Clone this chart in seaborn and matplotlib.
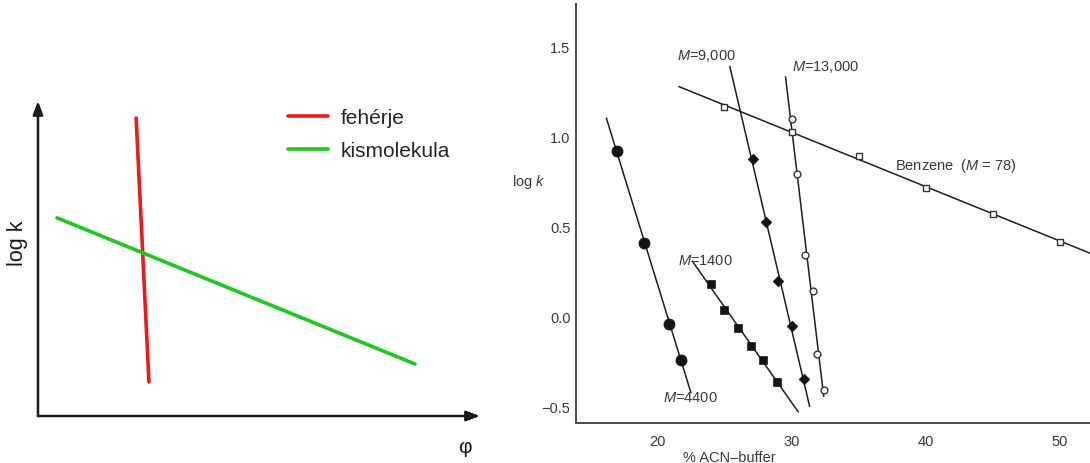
import numpy as np
import matplotlib
matplotlib.use("Agg")
import matplotlib.pyplot as plt
import seaborn as sns

# ---------------- data ----------------
# Schematic panel: retention (log k) vs. organic modifier fraction (phi)
protein_phi = [0.222, 0.251]
protein_logk = [0.946, 0.108]
small_phi = [0.043, 0.853]
small_logk = [0.629, 0.165]
schematic_labels = ["fehérje", "kismolekula"]

# Measured panel: log k vs. % ACN in buffer
acn_4400 = [17.0, 19.0, 20.9, 21.8]
logk_4400 = [0.92, 0.41, -0.04, -0.24]

acn_1400 = [24.0, 25.0, 26.0, 27.0, 27.9, 28.9]
logk_1400 = [0.18, 0.035, -0.06, -0.16, -0.24, -0.36]

acn_9000 = [27.1, 28.1, 29.0, 30.0, 30.9]
logk_9000 = [0.875, 0.525, 0.20, -0.05, -0.345]

acn_13000 = [30.0, 30.4, 31.0, 31.6, 31.9, 32.4]
logk_13000 = [1.10, 0.79, 0.34, 0.145, -0.205, -0.405]

acn_benzene = [25, 30, 35, 40, 45, 50]
logk_benzene = [1.165, 1.025, 0.893, 0.716, 0.571, 0.416]

# x-range over which each regression line is drawn
span_4400 = [16.2, 22.5]
span_1400 = [22.6, 30.5]
span_9000 = [25.4, 31.35]
span_13000 = [29.55, 32.4]
span_benzene = [21.6, 52.3]

x_ticks = [20, 30, 40, 50]
y_ticks = [-0.5, 0.0, 0.5, 1.0, 1.5]

# ---------------- style ----------------
sns.set_theme(style="white")
plt.rcParams["font.family"] = ["Liberation Sans", "DejaVu Sans"]
plt.rcParams["mathtext.fontset"] = "custom"
plt.rcParams["mathtext.rm"] = "Liberation Sans"
plt.rcParams["mathtext.it"] = "Liberation Sans:italic"

W, H = 1090, 464
fig = plt.figure(figsize=(W / 100, H / 100), dpi=100)
fig.patch.set_facecolor("white")


def fx(px):
    return px / W


def fy(py):
    return 1 - py / H


# ---------------- left: schematic ----------------
axL = fig.add_axes([fx(38), fy(417), fx(480) - fx(38), fy(102) - fy(417)])
axL.set_xlim(0, 1)
axL.set_ylim(0, 1)
axL.axis("off")

red = "#f01818"
green = "#1ec81e"
sns.lineplot(x=protein_phi, y=protein_logk, color=red, lw=2.6, ax=axL,
             label=schematic_labels[0], sort=False)
sns.lineplot(x=small_phi, y=small_logk, color=green, lw=2.6, ax=axL,
             label=schematic_labels[1], sort=False)

arrow = dict(arrowstyle="-|>,head_length=0.8,head_width=0.3", color="#1a1a1a",
             lw=1.8, shrinkA=0, shrinkB=0, mutation_scale=10)
axL.annotate("", xy=(0, 1), xytext=(0, 0), xycoords="axes fraction",
             textcoords="axes fraction", arrowprops=arrow, annotation_clip=False)
axL.annotate("", xy=(1, 0), xytext=(0, 0), xycoords="axes fraction",
             textcoords="axes fraction", arrowprops=arrow, annotation_clip=False)

axL.legend(loc="upper left", bbox_to_anchor=(fx(288), fy(109)),
           bbox_transform=fig.transFigure, frameon=False, fontsize=15,
           handlelength=1.9, handletextpad=0.65, labelspacing=0.68,
           borderpad=0, borderaxespad=0)

fig.text(fx(18), fy(243), "log k", rotation=90, ha="center", va="center",
         fontsize=15.5, color="#1a1a1a")
fig.text(fx(465), fy(448), "φ", ha="center", va="center", fontsize=15,
         color="#1a1a1a")

# ---------------- right: measured retention ----------------
axR = fig.add_axes([fx(576), fy(424), fx(1090) - fx(576), fy(5) - fy(424)])
axR.set_xlim(13.94, 52.24)
axR.set_ylim(-0.590, 1.736)

line_kw = dict(color="#1e1e1e", lw=1.1, ax=axR, legend=False)
series = [
    (acn_4400, logk_4400, span_4400),
    (acn_1400, logk_1400, span_1400),
    (acn_9000, logk_9000, span_9000),
    (acn_13000, logk_13000, span_13000),
    (acn_benzene, logk_benzene, span_benzene),
]
for xs, ys, span in series:
    slope, intercept = np.polyfit(xs, ys, 1)
    sx = np.array(span)
    sns.lineplot(x=sx, y=slope * sx + intercept, **line_kw)

dark = "#141414"
sns.scatterplot(x=acn_4400, y=logk_4400, marker="o", s=62, color=dark,
                edgecolor=dark, ax=axR, zorder=3)
sns.scatterplot(x=acn_1400, y=logk_1400, marker="s", s=36, color=dark,
                edgecolor=dark, ax=axR, zorder=3)
sns.scatterplot(x=acn_9000, y=logk_9000, marker="D", s=30, color=dark,
                edgecolor=dark, ax=axR, zorder=3)
sns.scatterplot(x=acn_13000, y=logk_13000, marker="o", s=24, color="white",
                edgecolor="#333333", linewidth=1.0, ax=axR, zorder=3)
sns.scatterplot(x=acn_benzene, y=logk_benzene, marker="s", s=24, color="white",
                edgecolor="#333333", linewidth=1.0, ax=axR, zorder=3)

txt = dict(fontsize=10.5, color="#3a3a3a", va="center", ha="left")
axR.text(21.47, 1.453, r"$M$=9,000", **txt)
axR.text(30.02, 1.392, r"$M$=13,000", **txt)
axR.text(37.7, 0.843, r"Benzene  ($M$ = 78)", **txt)
axR.text(21.55, 0.316, r"$M$=1400", **txt)
axR.text(20.43, -0.444, r"$M$=4400", **txt)

axR.set_xticks(x_ticks)
axR.set_yticks(y_ticks)
axR.set_xticklabels([str(t) for t in x_ticks])
axR.set_yticklabels(["\u22120.5", "0.0", "0.5", "1.0", "1.5"])
axR.tick_params(axis="both", direction="in", length=8, width=1.2,
                color="#3a3a3a", labelsize=10.5, labelcolor="#3a3a3a")
axR.tick_params(axis="x", pad=8)
axR.tick_params(axis="y", pad=4)
for side in ("top", "right"):
    axR.spines[side].set_visible(False)
for side in ("left", "bottom"):
    axR.spines[side].set_color("#4a4a4a")
    axR.spines[side].set_linewidth(1.4)
axR.set_xlabel("")
axR.set_ylabel("")

fig.text(fx(529), fy(182), r"log $k$", ha="center", va="center",
         fontsize=10.5, color="#3a3a3a")
fig.text(fx(729.5), fy(462), "% ACN\u2013buffer", ha="center", va="baseline",
         fontsize=10.5, color="#3a3a3a")

fig.savefig("out.png", dpi=100, facecolor="white")
